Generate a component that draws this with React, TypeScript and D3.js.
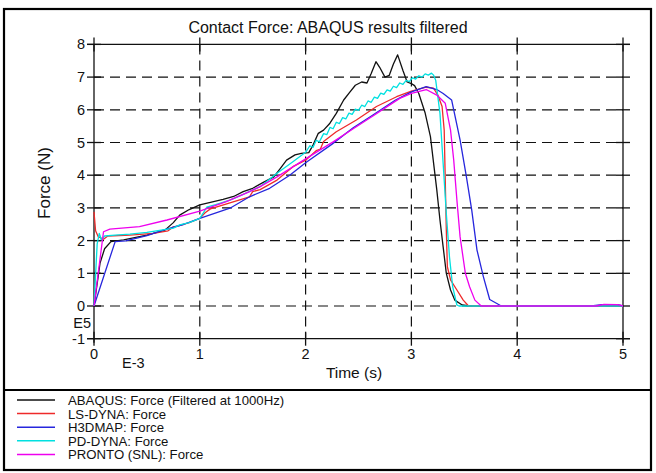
import React from "react";
import * as d3 from "d3";

const xTicks = [0, 1, 2, 3, 4, 5];
const yTicks = [-1, 0, 1, 2, 3, 4, 5, 6, 7, 8];
const gridX = [1, 2, 3, 4];
const gridY = [0, 1, 2, 3, 4, 5, 6, 7];

const seriesNames = [
  "ABAQUS: Force (Filtered at 1000Hz)",
  "LS-DYNA: Force",
  "H3DMAP: Force",
  "PD-DYNA: Force",
  "PRONTO (SNL): Force",
];
const seriesColors = ["#111111", "#ee2a2a", "#2626dd", "#00e0e0", "#ee00ee"];

const abaqus: [number, number][] = [
  [0, 0], [0.057, 1.31], [0.1, 1.75], [0.16, 1.97], [0.28, 2.02], [0.5, 2.17], [0.67, 2.32],
  [0.75, 2.55], [0.81, 2.78], [0.9, 2.95], [1.0, 3.09], [1.1, 3.17], [1.22, 3.26], [1.32, 3.35],
  [1.41, 3.5], [1.5, 3.6], [1.6, 3.78], [1.7, 3.95], [1.76, 4.2], [1.82, 4.46], [1.9, 4.62],
  [1.96, 4.67], [2.03, 4.69], [2.07, 4.92], [2.12, 5.28], [2.17, 5.38], [2.23, 5.59], [2.29, 5.89],
  [2.36, 6.3], [2.42, 6.55], [2.47, 6.75], [2.53, 6.85], [2.58, 6.82], [2.62, 7.11], [2.665, 7.47],
  [2.7, 7.3], [2.75, 7.0], [2.79, 7.05], [2.83, 7.4], [2.87, 7.68], [2.92, 7.2], [2.96, 6.85],
  [3.0, 6.8], [3.03, 6.74], [3.07, 6.5], [3.13, 5.9], [3.18, 5.18], [3.21, 4.36], [3.24, 3.55],
  [3.27, 2.63], [3.3, 1.81], [3.33, 1.0], [3.37, 0.49], [3.41, 0.18], [3.48, 0.03], [3.55, 0], [5, 0],
];

const lsDyna: [number, number][] = [
  [0, 2.88], [0.015, 2.3], [0.04, 2.12], [0.09, 2.04], [0.13, 2.14], [0.34, 2.17], [0.56, 2.22],
  [0.7, 2.3], [0.75, 2.42], [0.8, 2.45], [0.9, 2.55], [1.0, 2.68], [1.05, 2.85], [1.1, 2.97],
  [1.3, 3.17], [1.47, 3.34], [1.5, 3.5], [1.57, 3.56], [1.73, 3.85], [1.88, 4.26], [2.0, 4.46],
  [2.1, 4.75], [2.14, 4.8], [2.17, 5.03], [2.29, 5.33], [2.48, 5.69], [2.67, 6.1], [2.86, 6.4],
  [3.0, 6.57], [3.14, 6.69], [3.21, 6.66], [3.25, 6.45], [3.29, 6.1], [3.31, 5.38], [3.32, 3.85],
  [3.33, 2.32], [3.34, 1.2], [3.37, 0.8], [3.43, 0.49], [3.49, 0.18], [3.54, 0], [5, 0],
];

const h3dmap: [number, number][] = [
  [0, 0], [0.2, 1.97], [0.3, 1.99], [0.5, 2.15], [0.655, 2.32], [0.85, 2.5], [1.0, 2.68],
  [1.285, 2.99], [1.47, 3.34], [1.66, 3.6], [1.85, 4.0], [2.0, 4.38], [2.25, 4.95], [2.45, 5.45],
  [2.64, 5.85], [2.85, 6.3], [3.0, 6.55], [3.14, 6.71], [3.24, 6.62], [3.3, 6.5], [3.38, 6.3],
  [3.46, 5.08], [3.52, 3.95], [3.57, 2.94], [3.62, 1.71], [3.68, 0.9], [3.74, 0.2], [3.85, 0],
  [4.7, 0], [4.8, 0.04], [4.95, 0.04], [5, 0],
];

const pdDyna: [number, number][] = [
  [0, 0], [0.03, 1.9], [0.05, 2.22], [0.07, 2.02], [0.1, 2.14], [0.2, 2.17], [0.34, 2.2],
  [0.5, 2.25], [0.65, 2.33], [0.75, 2.38], [0.81, 2.48], [0.9, 2.55], [1.0, 2.68], [1.03, 2.83],
  [1.065, 3.02], [1.15, 3.1], [1.285, 3.24], [1.4, 3.4], [1.57, 3.65], [1.73, 4.06], [1.88, 4.41],
  [2.0, 4.7], [2.04, 4.9], [2.07, 4.85], [2.1, 5.07], [2.13, 5.02], [2.17, 5.27], [2.2, 5.24],
  [2.23, 5.46], [2.26, 5.42], [2.29, 5.62], [2.32, 5.58], [2.35, 5.76], [2.38, 5.72], [2.41, 5.9],
  [2.44, 5.86], [2.47, 6.02], [2.5, 5.98], [2.53, 6.14], [2.56, 6.1], [2.59, 6.27], [2.62, 6.23],
  [2.65, 6.39], [2.68, 6.35], [2.71, 6.51], [2.74, 6.47], [2.77, 6.61], [2.8, 6.57], [2.83, 6.72],
  [2.86, 6.68], [2.89, 6.82], [2.92, 6.78], [2.95, 6.9], [2.98, 6.86], [3.01, 6.98], [3.04, 6.94],
  [3.07, 7.04], [3.1, 7.0], [3.13, 7.1], [3.16, 7.06], [3.19, 7.12], [3.21, 7.06], [3.23, 6.9],
  [3.27, 5.89], [3.3, 4.36], [3.33, 2.83], [3.36, 1.5], [3.39, 0.59], [3.43, 0.03], [3.45, 0], [5, 0],
];

const pronto: [number, number][] = [
  [0, 0], [0.09, 2.27], [0.15, 2.35], [0.43, 2.43], [0.69, 2.63], [1.0, 2.9], [1.25, 3.19],
  [1.47, 3.5], [1.57, 3.65], [1.73, 3.95], [2.0, 4.5], [2.26, 5.02], [2.45, 5.42], [2.64, 5.82],
  [2.89, 6.35], [3.0, 6.5], [3.14, 6.62], [3.24, 6.45], [3.32, 6.2], [3.37, 5.38], [3.4, 4.46],
  [3.43, 3.24], [3.46, 2.12], [3.51, 1.0], [3.55, 0.59], [3.6, 0.18], [3.66, 0], [4.75, 0],
  [4.82, 0.05], [4.95, 0.04], [5, 0],
];

const seriesData = [abaqus, lsDyna, h3dmap, pdDyna, pronto];

const FONT = "'Liberation Sans', Arial, Helvetica, sans-serif";

export default function App() {
  const x = d3.scaleLinear().domain([0, 5]).range([94, 623]);
  const y = d3.scaleLinear().domain([-1, 8]).range([338.7, 44.4]);
  const line = d3
    .line<[number, number]>()
    .x((d) => x(d[0]))
    .y((d) => y(d[1]));
  const [x0, x1] = x.range();
  const y0 = y(-1);
  const y1 = y(8);
  const tk = 7;

  return (
    <svg
      width={656}
      height={473}
      style={{ position: "absolute", left: 0, top: 0, background: "#fff" }}
      fontFamily={FONT}
    >
      <rect x={0} y={0} width={656} height={473} fill="#fff" />
      <rect x={4} y={9} width={647} height={461} fill="none" stroke="#000" strokeWidth={2.2} />
      <line x1={4} x2={651} y1={390} y2={390} stroke="#000" strokeWidth={2.2} />

      <text x={328} y={33} fontSize={16} textAnchor="middle" fill="#111">
        Contact Force: ABAQUS results filtered
      </text>

      {/* grid */}
      {gridY.map((v) => (
        <line key={"gy" + v} x1={x0} x2={x1} y1={y(v)} y2={y(v)} stroke="#111" strokeWidth={1.2} strokeDasharray="10,6" />
      ))}
      {gridX.map((v) => (
        <line key={"gx" + v} x1={x(v)} x2={x(v)} y1={y1} y2={y0} stroke="#111" strokeWidth={1.2} strokeDasharray="10,6" />
      ))}

      {/* frame axes */}
      <line x1={x0 - tk} x2={x1 + tk} y1={y0} y2={y0} stroke="#111" strokeWidth={1.3} />
      <line x1={x0 - tk} x2={x1 + tk} y1={y1} y2={y1} stroke="#111" strokeWidth={1.3} />
      <line x1={x0} x2={x0} y1={y1} y2={y0 + 4} stroke="#111" strokeWidth={1.3} />
      <line x1={x1} x2={x1} y1={y1} y2={y0 + 4} stroke="#111" strokeWidth={1.3} />

      {yTicks.map((v) => (
        <g key={"yt" + v}>
          <line x1={x0 - tk} x2={x0 + tk} y1={y(v)} y2={y(v)} stroke="#111" strokeWidth={1.3} />
          <line x1={x1 - tk} x2={x1 + tk} y1={y(v)} y2={y(v)} stroke="#111" strokeWidth={1.3} />
          <text x={85} y={y(v) + 5} fontSize={14.5} textAnchor="end" fill="#111">
            {v}
          </text>
        </g>
      ))}
      {xTicks.map((v) => (
        <g key={"xt" + v}>
          <line x1={x(v)} x2={x(v)} y1={y0 - tk} y2={y0 + tk} stroke="#111" strokeWidth={1.3} />
          <line x1={x(v)} x2={x(v)} y1={y1 - tk} y2={y1 + tk} stroke="#111" strokeWidth={1.3} />
          <text x={x(v)} y={359} fontSize={14.5} textAnchor="middle" fill="#111">
            {v}
          </text>
        </g>
      ))}

      <text x={91} y={328} fontSize={14.5} textAnchor="end" fill="#111">E5</text>
      <text x={122} y={368} fontSize={14.5} fill="#111">E-3</text>
      <text x={354} y={378} fontSize={15.5} textAnchor="middle" fill="#111">Time (s)</text>
      <text
        transform={`translate(50,183) rotate(-90)`}
        fontSize={17}
        textAnchor="middle"
        fill="#111"
      >
        Force (N)
      </text>

      {/* series */}
      {seriesData.map((d, i) => (
        <path key={"s" + i} d={line(d) || ""} fill="none" stroke={seriesColors[i]} strokeWidth={1.3} strokeLinejoin="round" />
      ))}

      {/* legend */}
      {seriesNames.map((n, i) => (
        <g key={"lg" + i}>
          <line x1={17} x2={55} y1={400 + i * 13.6} y2={400 + i * 13.6} stroke={seriesColors[i]} strokeWidth={1.5} />
          <text x={68} y={400 + i * 13.6 + 5} fontSize={13.2} fill="#111">
            {n}
          </text>
        </g>
      ))}
    </svg>
  );
}
